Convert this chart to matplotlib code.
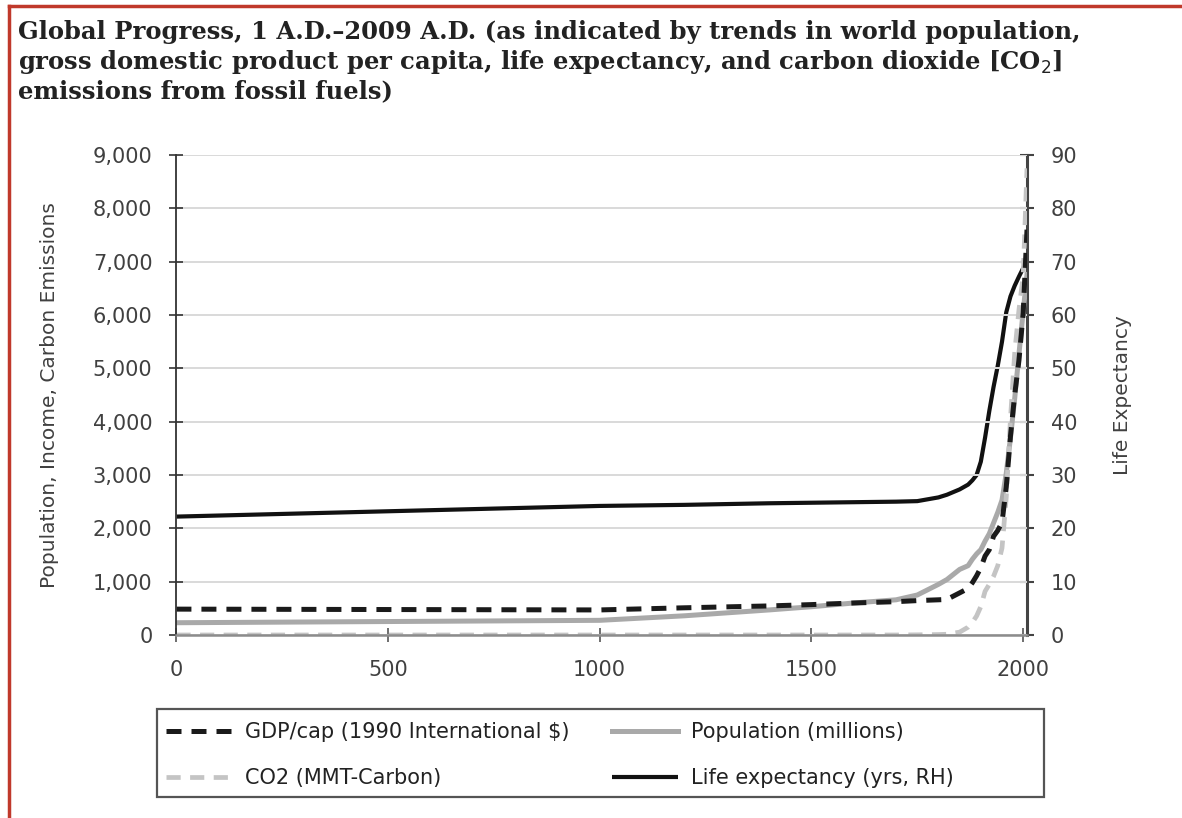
import matplotlib
matplotlib.use("Agg")
import matplotlib.pyplot as plt
from matplotlib.patches import Rectangle
from matplotlib.lines import Line2D

# ---- data ----
years = [1, 1000, 1200, 1400, 1500, 1600, 1700, 1750, 1800, 1820, 1850, 1870, 1880, 1890,
         1900, 1910, 1920, 1930, 1940, 1950, 1960, 1970, 1980, 1990, 2000, 2009]
gdp_per_cap = [485, 470, 510, 545, 570, 600, 625, 645, 660, 667, 790, 873, 980, 1110,
               1262, 1480, 1600, 1850, 1960, 2110, 2770, 3730, 4510, 5150, 6040, 7600]
population = [230, 275, 360, 470, 530, 600, 660, 750, 950, 1040, 1230, 1300, 1420, 1520,
              1600, 1760, 1900, 2100, 2300, 2530, 3030, 3700, 4440, 5270, 6070, 6760]
co2 = [0, 0, 0, 0, 0, 0, 0, 3, 8, 14, 54, 147, 236, 356,
       534, 819, 950, 1100, 1300, 1630, 2577, 4053, 5293, 6097, 6735, 8750]
life_exp = [22.2, 24.2, 24.4, 24.7, 24.8, 24.9, 25.0, 25.1, 25.8, 26.3, 27.3, 28.2, 29.0, 30.0,
            32.5, 37.0, 42.0, 46.5, 50.5, 55.0, 60.5, 63.5, 65.5, 67.2, 68.8, 70.0]

left_ticks = [0, 1000, 2000, 3000, 4000, 5000, 6000, 7000, 8000, 9000]
right_ticks = [0, 10, 20, 30, 40, 50, 60, 70, 80, 90]
x_ticks = [0, 500, 1000, 1500, 2000]

title = ("Global Progress, 1 A.D.\u20132009 A.D. (as indicated by trends in world population,\n"
         "gross domestic product per capita, life expectancy, and carbon dioxide [CO$_2$]\n"
         "emissions from fossil fuels)")

W, H = 1182, 818
fig = plt.figure(figsize=(W / 100, H / 100), dpi=100)
fig.patch.set_facecolor("white")

txt_col = "#404040"
sans = ["DejaVu Sans"]

ax = fig.add_axes([176 / W, 1 - 635 / H, (1027 - 176) / W, (635 - 155) / H])
ax2 = ax.twinx()
# primary axis on top so life expectancy is drawn beneath the others
ax.set_zorder(ax2.get_zorder() + 1)
ax.patch.set_visible(False)

# life expectancy (right axis)
l_life, = ax2.plot(years, life_exp, color="#111111", lw=3.0, solid_capstyle="butt",
                   label="Life expectancy (yrs, RH)")

l_pop, = ax.plot(years, population, color="#a9a9a9", lw=3.6, label="Population (millions)")
l_co2, = ax.plot(years, co2, color="#c4c4c4", lw=3.4, dashes=(3, 2),
                 label="CO2 (MMT-Carbon)")
l_gdp, = ax.plot(years, gdp_per_cap, color="#1a1a1a", lw=3.6, dashes=(3, 2),
                 label="GDP/cap (1990 International $)")

ax.set_xlim(0, 2009)
ax.set_ylim(0, 9000)
ax2.set_ylim(0, 90)

ax.set_yticks(left_ticks)
ax.set_yticklabels([f"{v:,}" for v in left_ticks])
ax2.set_yticks(right_ticks)
ax2.set_yticklabels([str(v) for v in right_ticks])
ax.set_xticks(x_ticks)

ax.grid(axis="y", color="#d9d9d9", lw=1.4)
ax.set_axisbelow(True)

for a in (ax, ax2):
    a.spines["top"].set_visible(False)
ax.spines["left"].set_color("#333333")
ax.spines["left"].set_linewidth(1.3)
ax.spines["right"].set_visible(False)
ax2.spines["left"].set_visible(False)
ax2.spines["bottom"].set_visible(False)
ax2.spines["right"].set_color("#444444")
ax2.spines["right"].set_linewidth(2.2)
ax.spines["bottom"].set_color("#8c8c8c")
ax.spines["bottom"].set_linewidth(1.8)

ax.tick_params(axis="y", direction="inout", length=10, width=1.2, color="#333333",
               labelsize=15, labelcolor=txt_col, pad=12)
ax2.tick_params(axis="y", direction="inout", length=10, width=1.5, color="#444444",
                labelsize=15, labelcolor=txt_col, pad=12)
ax.tick_params(axis="x", direction="inout", length=10, width=1.2, color="#555555",
               labelsize=15, labelcolor=txt_col, pad=13)
for lab in ax.get_xticklabels() + ax.get_yticklabels() + ax2.get_yticklabels():
    lab.set_family(sans)

ax.set_ylabel("Population, Income, Carbon Emissions", fontsize=14.5, color=txt_col,
              family=sans)
ax2.set_ylabel("Life Expectancy", fontsize=14.5, color=txt_col, family=sans)
ax.yaxis.set_label_coords(-(176 - 59) / (1027 - 176), 0.5)
ax2.yaxis.set_label_coords(1 + (1113 - 1027) / (1027 - 176), 0.5)

# title
fig.text(18 / W, 1 - 20 / H, title, ha="left", va="top", fontsize=17.5,
         family="DejaVu Serif", weight="bold", color="#222222", linespacing=1.18)

# red frame (left and top)
fig.add_artist(Line2D([9 / W, 9 / W], [0, 1 - 6 / H], transform=fig.transFigure,
                      color="#c0392b", lw=2.5))
fig.add_artist(Line2D([9 / W, 1], [1 - 6 / H, 1 - 6 / H], transform=fig.transFigure,
                      color="#c0392b", lw=2.5))

# legend box
fig.add_artist(Rectangle((157 / W, 1 - 797 / H), (1044 - 157) / W, (797 - 709) / H,
                         transform=fig.transFigure, fill=False, ec="#555555", lw=1.6))
leg = fig.legend(handles=[l_gdp, l_co2, l_pop, l_life], ncol=2, frameon=False,
                 loc="upper left", bbox_to_anchor=(162 / W, 1 - 718 / H),
                 prop={"family": sans, "size": 15}, handlelength=3.2,
                 handletextpad=0.6, columnspacing=2.0, labelspacing=1.25,
                 borderpad=0.2, borderaxespad=0)
for t in leg.get_texts():
    t.set_color("#222222")

fig.savefig("out.png", dpi=100)
